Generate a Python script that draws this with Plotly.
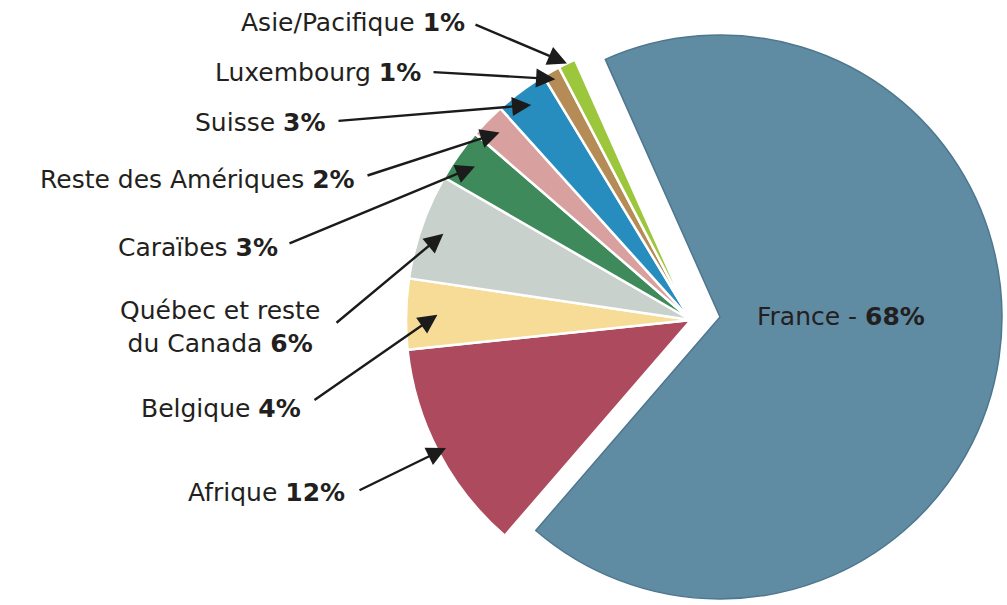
import math
import plotly.graph_objects as go

# ---- data ----
regions = ["France", "Afrique", "Belgique", "Québec et reste<br>du Canada", "Caraïbes",
           "Reste des Amériques", "Suisse", "Luxembourg", "Asie/Pacifique"]
shares = [68, 12, 4, 6, 3, 2, 3, 1, 1]
colors = ["#5f8ba3", "#ad4a5d", "#f6dc96", "#c8d1cb", "#3e8a5b",
          "#d8a19f", "#278dbf", "#b58b56", "#9cc63c"]

# ---- layout / style (pixel geometry) ----
W, H = 1007, 605
ROT = -24
FR_C, FR_R = (720, 317), 282          # France (pulled) circle
SM_C, SM_R = (691, 320), 285          # other slices circle
# label anchor (right edge x, centre y) and arrow tails, for regions[1:]
label_pos = [(347, 492), (303, 408), (220, 327), (280, 247), (357, 179), (328, 122), (423, 72), (467, 22)]
tails = [(358, 491), (313, 401), (335, 324), (288, 244), (366, 176), (337, 121), (432, 72), (474, 24)]
head_frac = [0.97, 0.89, 0.92, 0.93, 0.94, 0.94, 0.97, 1.0]
FONT = "DejaVu Sans"
FS = 25
TXT = "#231f20"


def domain(c, r):
    return dict(x=[(c[0] - r) / W, min(1, (c[0] + r) / W)],
                y=[max(0, 1 - (c[1] + r) / H), 1 - (c[1] - r) / H])


transparent = "rgba(0,0,0,0)"
fig = go.Figure()
# small slices
fig.add_trace(go.Pie(
    labels=regions, values=shares, sort=False, direction="clockwise", rotation=ROT,
    marker=dict(colors=[transparent] + colors[1:],
                line=dict(color=["rgba(0,0,0,0)"] + ["white"] * 8, width=2.5)),
    textinfo="none", hoverinfo="label+percent", showlegend=False,
    domain=domain(SM_C, SM_R)))
# France
fig.add_trace(go.Pie(
    labels=regions, values=shares, sort=False, direction="clockwise", rotation=ROT,
    marker=dict(colors=[colors[0]] + [transparent] * 8,
                line=dict(color=["#4d778f"] + ["rgba(0,0,0,0)"] * 8, width=1.5)),
    textinfo="none", hoverinfo="label+percent", showlegend=False,
    domain=domain(FR_C, FR_R)))

annotations = []
total = sum(shares)
cum = shares[0]
for i in range(1, len(regions)):
    mid = ROT + 360 * (cum + shares[i] / 2) / total
    cum += shares[i]
    th = math.radians(mid)
    hx = SM_C[0] + head_frac[i - 1] * SM_R * math.sin(th)
    hy = SM_C[1] - head_frac[i - 1] * SM_R * math.cos(th)
    tx, ty = tails[i - 1]
    annotations.append(dict(x=hx, y=hy, ax=tx, ay=ty, xref="x", yref="y", axref="x", ayref="y",
                            text="", showarrow=True, arrowhead=2, arrowsize=1.6,
                            arrowwidth=2.4, arrowcolor="#1b1b1b"))
    lx, ly = label_pos[i - 1]
    centered = "<br>" in regions[i]
    annotations.append(dict(x=lx, y=ly, xref="x", yref="y", showarrow=False,
                            text=f"{regions[i]} <b>{shares[i]}%</b>",
                            xanchor="center" if centered else "right", yanchor="middle",
                            align="center", font=dict(family=FONT, size=FS, color=TXT)))

annotations.append(dict(x=841, y=316, xref="x", yref="y", showarrow=False,
                        text=f"{regions[0]} - <b>{shares[0]}%</b>",
                        xanchor="center", yanchor="middle",
                        font=dict(family=FONT, size=FS, color=TXT)))

fig.update_layout(
    width=W, height=H, margin=dict(l=0, r=0, t=0, b=0),
    paper_bgcolor="white", plot_bgcolor="rgba(0,0,0,0)",
    xaxis=dict(range=[0, W], visible=False, fixedrange=True),
    yaxis=dict(range=[H, 0], visible=False, fixedrange=True),
    annotations=annotations,
)
fig.write_html("out.html", config={"displayModeBar": False},
               post_script="document.body.style.margin='0';document.body.style.overflow='hidden';")
